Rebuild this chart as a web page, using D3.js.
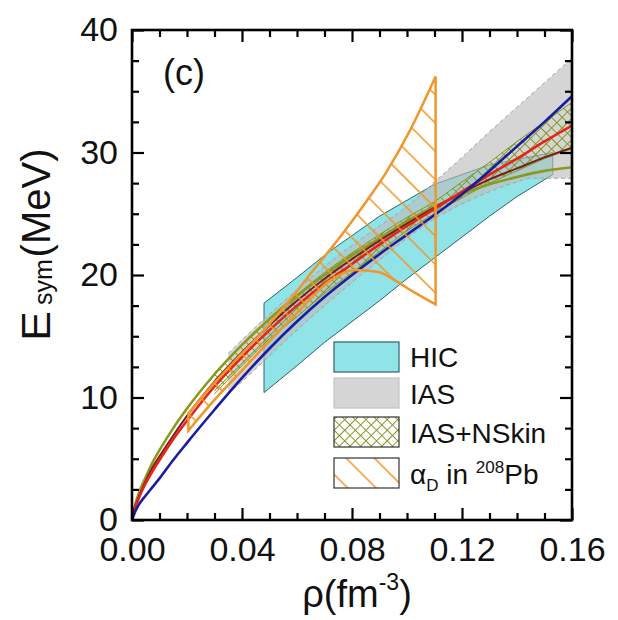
<!DOCTYPE html>
<html><head><meta charset="utf-8">
<script src="https://cdn.jsdelivr.net/npm/d3@7"></script>
<style>
html,body{margin:0;padding:0;background:#fff;}
svg{display:block;}
text{font-family:"Liberation Sans",Arial,Helvetica,sans-serif;fill:#111;}
</style></head>
<body>
<svg id="c" width="618" height="620"></svg>
<script>
// ---------- data ----------
const xTicks = [0.00, 0.04, 0.08, 0.12, 0.16];
const xMinor = [0.01,0.02,0.03,0.05,0.06,0.07,0.09,0.10,0.11,0.13,0.14,0.15];
const yTicks = [0, 10, 20, 30, 40];
const yMinor = [2.5,5,7.5,12.5,15,17.5,22.5,25,27.5,32.5,35,37.5];

// HIC band (polygon boundary)
const hicUpper = [[0.048,17.7],[0.06,19.8],[0.0717,21.9],[0.09,24.8],[0.11,27.4],[0.13,29.0],[0.153,30.0]];
const hicLower = [[0.048,10.4],[0.06,12.6],[0.07,14.5],[0.08,16.2],[0.09,17.9],[0.10,19.7],[0.11,21.4],[0.12,23.1],[0.13,24.8],[0.14,26.4],[0.153,28.2]];

// IAS band
const iasRho   = [0.035,0.04,0.05,0.06,0.07,0.08,0.09,0.10,0.11,0.12,0.13,0.14,0.145,0.16];
const iasLower = [10.3,11.3,13.4,15.5,17.5,19.4,21.2,23.0,24.6,25.8,26.8,27.6,27.9,27.9];
const iasUpper = [13.6,14.7,16.8,18.8,20.7,22.4,24.0,25.6,27.6,29.6,31.7,33.7,34.7,37.7];

// IAS+NSkin band
const nsRho   = [0.03,0.04,0.05,0.06,0.07,0.08,0.09,0.10,0.11,0.12,0.13,0.14,0.15,0.16];
const nsLower = [10.3,12.6,14.8,16.6,18.5,20.2,21.9,23.6,25.0,26.3,27.5,28.5,29.5,30.3];
const nsUpper = [12.0,14.3,16.5,18.4,20.2,21.8,23.3,24.7,26.0,27.6,29.2,30.9,32.5,34.1];

// alpha_D in 208Pb band
const adLower = [[0.0205,7.3],[0.03,9.8],[0.04,12.2],[0.05,14.6],[0.06,16.9],[0.0724,19.6],[0.081,20.4],[0.0896,20.25],[0.0953,19.6],[0.1025,18.6],[0.1104,17.6]];
const adUpper = [[0.0205,8.7],[0.03,11.2],[0.04,13.6],[0.05,16.0],[0.06,18.7],[0.0667,20.6],[0.0753,23.0],[0.0839,25.6],[0.0925,28.4],[0.1011,31.8],[0.1104,36.2]];

// curves
const curveRho = [0,0.001,0.0025,0.005,0.0075,0.01,0.015,0.02,0.03,0.04,0.05,0.06,0.07,0.08,0.09,0.10,0.11,0.12,0.13,0.14,0.15,0.16];
const blueE   = [0,0.6,1.25,2.0,2.7,3.4,4.9,6.3,9.0,11.6,14.0,16.2,18.2,20.0,21.7,23.3,24.9,26.6,28.5,30.5,32.5,34.6];
const redE    = [0,0.9,1.8,3.0,4.0,4.9,6.6,8.1,10.9,13.3,15.5,17.5,19.3,20.9,22.5,24.0,25.4,26.8,28.2,29.5,30.9,32.2];
const maroonE = [0,1.0,1.9,3.2,4.3,5.2,6.9,8.5,11.3,13.7,15.9,17.9,19.7,21.3,22.8,24.2,25.5,26.7,27.8,28.7,29.6,30.4];
const greenE  = [0,1.1,2.2,3.5,4.7,5.7,7.5,9.1,11.9,14.3,16.4,18.3,20.0,21.6,23.0,24.4,25.6,26.6,27.4,28.0,28.5,28.8];

const legendLabels = ["HIC","IAS","IAS+NSkin"];

// ---------- drawing ----------
const svg = d3.select("#c");
const L = 132, R = 572, T = 30, B = 520;
const x = d3.scaleLinear().domain([0,0.16]).range([L,R]);
const y = d3.scaleLinear().domain([0,40]).range([B,T]);

const defs = svg.append("defs");
defs.append("clipPath").attr("id","clip").append("rect")
  .attr("x",L).attr("y",T).attr("width",R-L).attr("height",B-T);
const OLIVE = "#7f961c", ORANGE = "#f0962a";
const ph = defs.append("pattern").attr("id","xhatch").attr("patternUnits","userSpaceOnUse")
  .attr("width",7.5).attr("height",7.5).attr("patternTransform","rotate(45)");
ph.append("line").attr("x1",0).attr("y1",0).attr("x2",0).attr("y2",7.5).attr("stroke",OLIVE).attr("stroke-width",1.9);
ph.append("line").attr("x1",0).attr("y1",0).attr("x2",7.5).attr("y2",0).attr("stroke",OLIVE).attr("stroke-width",1.9);
const po = defs.append("pattern").attr("id","ohatch").attr("patternUnits","userSpaceOnUse")
  .attr("width",20).attr("height",20).attr("patternTransform","rotate(-45)");
po.append("line").attr("x1",0).attr("y1",0).attr("x2",0).attr("y2",20).attr("stroke",ORANGE).attr("stroke-width",3);

const g = svg.append("g").attr("clip-path","url(#clip)");

const line = d3.line().x(d=>x(d[0])).y(d=>y(d[1])).curve(d3.curveMonotoneX);
const polyLin = (up, lo) => d3.line().x(d=>x(d[0])).y(d=>y(d[1])).curve(d3.curveLinearClosed)(lo.concat(up.slice().reverse()));

// HIC
g.append("path").attr("d", polyLin(hicUpper, hicLower))
  .attr("fill","#90e4e8").attr("stroke","#2d6468").attr("stroke-width",1);

// IAS
const area = d3.area().x(d=>x(d[0])).y0(d=>y(d[1])).y1(d=>y(d[2])).curve(d3.curveMonotoneX);
const iasData = iasRho.map((r,i)=>[r,iasLower[i],iasUpper[i]]);
g.append("path").datum(iasData).attr("d",area)
  .attr("fill","#bcbcbc").attr("fill-opacity",0.62);
[iasLower, iasUpper].forEach(arr=>{
  g.append("path").datum(iasRho.map((r,i)=>[r,arr[i]])).attr("d",line)
    .attr("fill","none").attr("stroke","#a4a4a4").attr("stroke-width",1).attr("stroke-dasharray","4,3");
});

// IAS+NSkin
g.append("path").datum(nsRho.map((r,i)=>[r,nsLower[i],nsUpper[i]]))
  .attr("d",area).attr("fill","url(#xhatch)");
[nsLower, nsUpper].forEach(arr=>{
  g.append("path").datum(nsRho.map((r,i)=>[r,arr[i]])).attr("d",line)
    .attr("fill","none").attr("stroke",OLIVE).attr("stroke-width",1);
});

// curves
const curves = [
  {e: greenE, c:"#8a9a1e", w:2.6},
  {e: maroonE, c:"#7a1e1e", w:2},
  {e: redE, c:"#e8221a", w:2.6},
  {e: blueE, c:"#1c1ca0", w:2.6}
];
curves.forEach(cv=>{
  g.append("path").datum(curveRho.map((r,i)=>[r,cv.e[i]]))
    .attr("d",line).attr("fill","none").attr("stroke",cv.c).attr("stroke-width",cv.w);
});

// alpha_D
const adPath = line(adLower) + "L" + line(adUpper.slice().reverse()).slice(1) + "Z";
g.append("path").attr("d", adPath).attr("fill","url(#ohatch)")
  .attr("stroke",ORANGE).attr("stroke-width",2.5).attr("stroke-linejoin","miter");

// ---------- axes ----------
const ax = svg.append("g");
function mk(axisFn, scale, vals, size, fmt){
  return axisFn(scale).tickValues(vals).tickSize(size).tickFormat(fmt);
}
const fx = d3.format(".2f");
ax.append("g").attr("transform",`translate(0,${B})`)
  .call(mk(d3.axisBottom,x,xTicks,-12,fx).tickPadding(17));
ax.append("g").attr("transform",`translate(0,${B})`).call(mk(d3.axisBottom,x,xMinor,-7,""));
ax.append("g").attr("transform",`translate(0,${T})`).call(mk(d3.axisTop,x,xTicks,-12,""));
ax.append("g").attr("transform",`translate(0,${T})`).call(mk(d3.axisTop,x,xMinor,-7,""));
ax.append("g").attr("transform",`translate(${L},0)`)
  .call(mk(d3.axisLeft,y,yTicks,-12,d3.format("d")).tickPadding(14));
ax.append("g").attr("transform",`translate(${L},0)`).call(mk(d3.axisLeft,y,yMinor,-7,""));
ax.append("g").attr("transform",`translate(${R},0)`).call(mk(d3.axisRight,y,yTicks,-12,""));
ax.append("g").attr("transform",`translate(${R},0)`).call(mk(d3.axisRight,y,yMinor,-7,""));
ax.selectAll(".domain").remove();
ax.selectAll(".tick line").attr("stroke","#000").attr("stroke-width",2.2);
ax.selectAll(".tick text").attr("font-size",34).attr("fill","#111")
  .attr("font-family","'Liberation Sans',Arial,sans-serif");

svg.append("rect").attr("x",L).attr("y",T).attr("width",R-L).attr("height",B-T)
  .attr("fill","none").attr("stroke","#000").attr("stroke-width",2.6);

// axis titles
const xt = svg.append("text").attr("x",357).attr("y",607).attr("text-anchor","middle").attr("font-size",38);
xt.append("tspan").text("ρ(fm");
xt.append("tspan").attr("font-size",23).attr("dy",-17).text("-3");
xt.append("tspan").attr("dy",17).text(")");

svg.append("text").attr("transform","translate(50,326) rotate(-90) scale(1.12,1)")
  .attr("text-anchor","middle").attr("font-size",40).text("E");
svg.append("text").attr("transform","translate(52,282) rotate(-90)")
  .attr("text-anchor","middle").attr("font-size",25).text("sym");
svg.append("text").attr("transform","translate(50,203) rotate(-90)")
  .attr("text-anchor","middle").attr("font-size",40).text("(MeV)");

svg.append("text").attr("x",163).attr("y",85).attr("font-size",36).text("(c)");

// ---------- legend ----------
const lg = svg.append("g");
const lx = 334, bw = 65, bh = 30;
const rows = [
  {y:342, fill:"#90e4e8", stroke:"#2d6468"},
  {y:378, fill:"#d6d6d6", stroke:"#c4c4c4"},
  {y:417, fill:"url(#xhatch)", stroke:"#333", bg:true},
  {y:458, fill:"url(#ohatch)", stroke:"#333", bg:true}
];
rows.forEach(r=>{
  if(r.bg) lg.append("rect").attr("x",lx).attr("y",r.y).attr("width",bw).attr("height",bh).attr("fill","#fff");
  lg.append("rect").attr("x",lx).attr("y",r.y).attr("width",bw).attr("height",bh)
    .attr("fill",r.fill).attr("stroke",r.stroke).attr("stroke-width",1.2);
});
const tx = 410;
lg.append("text").attr("x",tx).attr("y",367).attr("font-size",28).text(legendLabels[0]);
lg.append("text").attr("x",tx).attr("y",404).attr("font-size",28).text(legendLabels[1]);
lg.append("text").attr("x",tx).attr("y",443).attr("font-size",28).text(legendLabels[2]);
const t4 = lg.append("text").attr("x",tx).attr("y",484).attr("font-size",28);
t4.append("tspan").text("α");
t4.append("tspan").attr("font-size",17).attr("dy",7).text("D");
t4.append("tspan").attr("dy",-7).text(" in ");
t4.append("tspan").attr("font-size",17).attr("dy",-11).text("208");
t4.append("tspan").attr("dy",11).text("Pb");
</script>
</body></html>
